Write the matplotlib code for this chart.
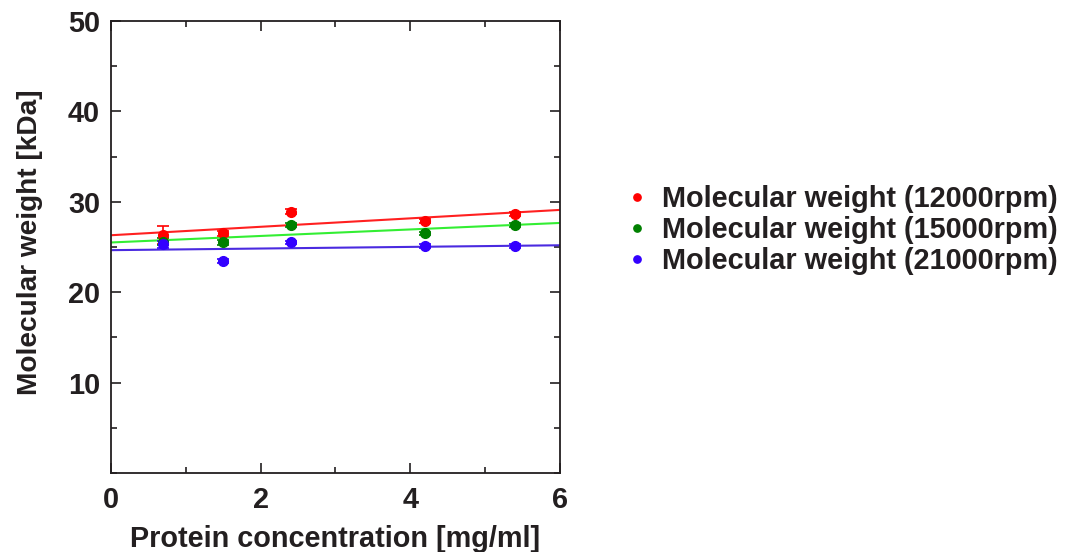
import matplotlib
matplotlib.use("Agg")
import matplotlib.pyplot as plt
import numpy as np
from matplotlib.ticker import MultipleLocator

plt.rcParams['font.family'] = ['Liberation Sans', 'DejaVu Sans']
plt.rcParams['font.weight'] = 'bold'

conc = [0.7, 1.5, 2.4, 4.2, 5.4]
mw_12000 = [26.3, 26.5, 28.9, 27.9, 28.65]
mw_15000 = [25.6, 25.5, 27.4, 26.5, 27.4]
mw_21000 = [25.3, 23.45, 25.5, 25.1, 25.1]
err_12000 = [1.0, 0.3, 0.3, 0.2, 0.2]
err_15000 = [0.4, 0.3, 0.2, 0.2, 0.2]
err_21000 = [0.4, 0.2, 0.2, 0.2, 0.2]
labels = ["Molecular weight (12000rpm)", "Molecular weight (15000rpm)", "Molecular weight (21000rpm)"]
fit_intercept = [26.3, 25.5, 24.65]
fit_slope = [0.467, 0.36, 0.09]

marker_colors = ['#ff0000', '#008000', '#3300ff']
line_colors = ['#ff2020', '#33ee33', '#4a2ae0']
text_color = '#231f20'
FS = 20.8

fig = plt.figure(figsize=(10.65, 5.52), dpi=100)
ax = fig.add_axes([0.1042, 0.1431, 0.4216, 0.8189])

xfit = np.array([0, 6])
series = [mw_12000, mw_15000, mw_21000]
errs = [err_12000, err_15000, err_21000]
for i in range(3):
    ax.plot(xfit, fit_intercept[i] + fit_slope[i] * xfit, color=line_colors[i], lw=1.5, zorder=2)
for i in range(3):
    ax.errorbar(conc, series[i], yerr=errs[i], fmt='o', color=marker_colors[i], ms=7,
                capsize=4, elinewidth=1.2, capthick=1.2, label=labels[i], zorder=3)

ax.set_xlim(0, 6)
ax.set_ylim(0, 50)
ax.xaxis.set_major_locator(MultipleLocator(2))
ax.xaxis.set_minor_locator(MultipleLocator(1))
ax.yaxis.set_major_locator(MultipleLocator(10))
ax.yaxis.set_minor_locator(MultipleLocator(5))
ax.tick_params(which='both', direction='in', top=True, right=True, colors=text_color,
               labelsize=FS)
ax.tick_params(axis='y', pad=8)
ax.tick_params(axis='x', pad=9)
ax.tick_params(which='major', length=7, width=1.2)
ax.tick_params(which='minor', length=4, width=1.2)
ax.set_yticks([10, 20, 30, 40, 50])
for s in ax.spines.values():
    s.set_linewidth(1.3)
    s.set_color(text_color)

ax.set_xlabel("Protein concentration [mg/ml]", fontsize=FS, fontweight='bold', color=text_color, labelpad=8)
ax.set_ylabel("Molecular weight [kDa]", fontsize=20.2, fontweight='bold', color=text_color)
ax.yaxis.set_label_coords(-0.151, 0.511)

handles, lbls = ax.get_legend_handles_labels()
handles = [h[0] for h in handles]
leg = fig.legend(handles, lbls, loc='upper left', bbox_to_anchor=(0.567, 0.712), frameon=False,
                 prop={'weight': 'bold', 'size': FS}, markerscale=0.75,
                 handlelength=0.5, handletextpad=0.6, labelspacing=0.1)
for t in leg.get_texts():
    t.set_color(text_color)

fig.savefig("out.png", dpi=100)
